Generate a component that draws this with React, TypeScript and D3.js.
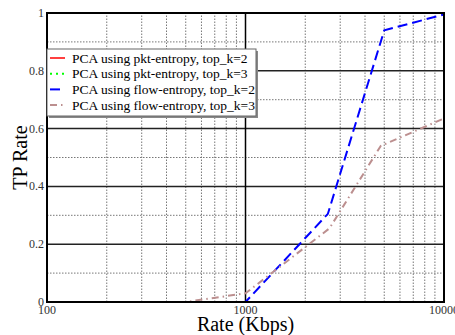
import * as d3 from "d3";
import { useEffect, useRef } from "react";

// rate in Kbps
const pktK2Rates = [100, 10000];
const pktK2Tp = [0, 0];
const pktK3Rates = [100, 10000];
const pktK3Tp = [0, 0];
const flowK2Rates = [100, 1000, 2600, 5000, 10000];
const flowK2Tp = [0, 0, 0.305, 0.94, 0.995];
const flowK3Rates = [100, 500, 1000, 2650, 4800, 10000];
const flowK3Tp = [0, 0, 0.03, 0.255, 0.54, 0.635];

const seriesNames = [
  "PCA using pkt-entropy, top_k=2",
  "PCA using pkt-entropy, top_k=3",
  "PCA using flow-entropy, top_k=2",
  "PCA using flow-entropy, top_k=3",
];
const xTickLabels = [100, 1000, 10000];
const yTickLabels = [0, 0.2, 0.4, 0.6, 0.8, 1];

const App = () => {
  const svgRef = useRef(null);
  const width = 455;
  const height = 335;

  useEffect(() => {
    const margin = { top: 13, right: 11, bottom: 33, left: 47 };
    const svg = d3.select(svgRef.current);
    svg.selectAll("*").remove();
    svg.attr("width", width).attr("height", height);

    const x = d3
      .scaleLog()
      .domain([100, 10000])
      .range([margin.left, width - margin.right]);
    const y = d3
      .scaleLinear()
      .domain([0, 1])
      .range([height - margin.bottom, margin.top]);

    const font = "'Liberation Serif', 'Times New Roman', serif";
    const g = svg.append("g");

    // minor grid
    const minorX = [200, 300, 400, 500, 600, 700, 800, 900, 2000, 3000, 4000, 5000, 6000, 7000, 8000, 9000];
    g.selectAll(".minx")
      .data(minorX)
      .join("line")
      .attr("x1", (d) => x(d))
      .attr("x2", (d) => x(d))
      .attr("y1", y(0))
      .attr("y2", y(1))
      .attr("stroke", "#777")
      .attr("stroke-width", 1)
      .attr("stroke-dasharray", "1.5,1.5");

    const minorY = [0.1, 0.3, 0.5, 0.7, 0.9];
    g.selectAll(".miny")
      .data(minorY)
      .join("line")
      .attr("x1", x(100))
      .attr("x2", x(10000))
      .attr("y1", (d) => y(d))
      .attr("y2", (d) => y(d))
      .attr("stroke", "#777")
      .attr("stroke-width", 1)
      .attr("stroke-dasharray", "1.5,1.5");

    // major grid
    g.selectAll(".majy")
      .data([0.2, 0.4, 0.6, 0.8])
      .join("line")
      .attr("x1", x(100))
      .attr("x2", x(10000))
      .attr("y1", (d) => y(d))
      .attr("y2", (d) => y(d))
      .attr("stroke", "#222")
      .attr("stroke-width", 1.5);

    g.append("line")
      .attr("x1", x(1000))
      .attr("x2", x(1000))
      .attr("y1", y(0))
      .attr("y2", y(1))
      .attr("stroke", "#000")
      .attr("stroke-width", 1.5);

    // lines
    const line = d3
      .line<[number, number]>()
      .x((d) => x(d[0]))
      .y((d) => y(d[1]));

    const series = [
      { r: pktK2Rates, v: pktK2Tp, color: "#ff0000", dash: null, w: 1.5 },
      { r: pktK3Rates, v: pktK3Tp, color: "#00ff00", dash: "2,4", w: 2 },
      { r: flowK2Rates, v: flowK2Tp, color: "#0000ff", dash: "10,5", w: 2 },
      { r: flowK3Rates, v: flowK3Tp, color: "#bc8f8f", dash: "7,4,1.5,4", w: 2 },
    ];

    series.forEach((s) => {
      const pts = s.r.map((d, i) => [d, s.v[i]] as [number, number]);
      g.append("path")
        .attr("d", line(pts) as string)
        .attr("fill", "none")
        .attr("stroke", s.color)
        .attr("stroke-width", s.w)
        .attr("stroke-dasharray", s.dash);
    });

    // frame
    g.append("rect")
      .attr("x", x(100))
      .attr("y", y(1))
      .attr("width", x(10000) - x(100))
      .attr("height", y(0) - y(1))
      .attr("fill", "none")
      .attr("stroke", "#000")
      .attr("stroke-width", 2);

    // tick labels
    g.selectAll(".ylab")
      .data(yTickLabels)
      .join("text")
      .attr("x", margin.left - 3)
      .attr("y", (d) => y(d) + 4)
      .attr("text-anchor", "end")
      .attr("font-family", font)
      .attr("font-size", "12px")
      .attr("fill", "#333")
      .text((d) => (d === 0 || d === 1 ? String(d) : d.toFixed(1)));

    g.selectAll(".xlab")
      .data(xTickLabels)
      .join("text")
      .attr("x", (d) => x(d))
      .attr("y", height - margin.bottom + 12)
      .attr("text-anchor", "middle")
      .attr("font-family", font)
      .attr("font-size", "12px")
      .attr("fill", "#333")
      .text((d) => String(d));

    // axis titles
    g.append("text")
      .attr("x", (x(100) + x(10000)) / 2)
      .attr("y", height - 4)
      .attr("text-anchor", "middle")
      .attr("font-family", font)
      .attr("font-size", "20px")
      .text("Rate (Kbps)");

    g.append("text")
      .attr("transform", `translate(27, ${(y(0) + y(1)) / 2}) rotate(-90)`)
      .attr("text-anchor", "middle")
      .attr("font-family", font)
      .attr("font-size", "20px")
      .text("TP Rate");

    // legend
    const lx = 47;
    const ly = 49;
    const lw = 209;
    const lh = 67;
    g.append("rect")
      .attr("x", lx + 2)
      .attr("y", ly + 2)
      .attr("width", lw)
      .attr("height", lh)
      .attr("fill", "#888");
    g.append("rect")
      .attr("x", lx)
      .attr("y", ly)
      .attr("width", lw)
      .attr("height", lh)
      .attr("fill", "#fff")
      .attr("stroke", "#666")
      .attr("stroke-width", 1);

    const legend = g
      .selectAll(".leg")
      .data(series)
      .join("g")
      .attr("transform", (_d, i) => `translate(${lx}, ${ly + 9 + i * 15.7})`);

    legend
      .append("line")
      .attr("x1", 3)
      .attr("x2", 18)
      .attr("y1", 0)
      .attr("y2", 0)
      .attr("stroke", (d) => d.color)
      .attr("stroke-width", (d) => d.w)
      .attr("stroke-dasharray", (d) => d.dash);

    legend
      .append("text")
      .attr("x", 25)
      .attr("y", 4.5)
      .attr("font-family", font)
      .attr("font-size", "13.5px")
      .text((_d, i) => seriesNames[i]);
  }, []);

  return (
    <svg
      ref={svgRef}
      style={{ position: "absolute", left: 0, top: 0, background: "#fff" }}
    ></svg>
  );
};

export default App;
